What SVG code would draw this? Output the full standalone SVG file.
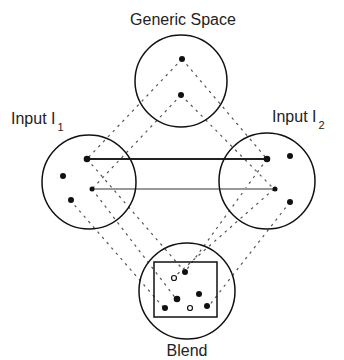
<svg xmlns="http://www.w3.org/2000/svg" width="344" height="360" viewBox="0 0 344 360">
<style>
.ring{fill:none;stroke:#111;stroke-width:1.5}
.dot{fill:#111}
.hollow{fill:#fff;stroke:#111;stroke-width:1.2}
.dash{fill:none;stroke:#555;stroke-width:1.2;stroke-dasharray:2.5 4.5}
.lbl{font-family:"Liberation Sans",Arial,sans-serif;font-size:16px;fill:#222}
.sub{font-family:"Liberation Sans",Arial,sans-serif;font-size:11px;fill:#222}
</style>
<rect width="344" height="360" fill="#fff"/>
<g id="connectors">
<line class="dash" x1="182" y1="59" x2="87" y2="159"/>
<line class="dash" x1="181" y1="95" x2="92" y2="189"/>
<line class="dash" x1="182" y1="59" x2="267" y2="159"/>
<line class="dash" x1="181" y1="95" x2="274" y2="189"/>
<line class="dash" x1="87" y1="159" x2="185" y2="272"/>
<line class="dash" x1="92" y1="189" x2="177" y2="300"/>
<line class="dash" x1="70" y1="200" x2="164" y2="308"/>
<line class="dash" x1="267" y1="159" x2="185" y2="272"/>
<line class="dash" x1="274" y1="189" x2="173" y2="278"/>
<line class="dash" x1="290" y1="202" x2="208" y2="307"/>
<line x1="87" y1="159" x2="267" y2="159" stroke="#222" stroke-width="1.8"/>
<line x1="92" y1="189" x2="274" y2="189" stroke="#999" stroke-width="1.8"/>
</g>
<g id="generic">
<circle class="ring" cx="181" cy="81" r="46"/>
<circle class="dot" cx="182" cy="59" r="3"/>
<circle class="dot" cx="181" cy="95" r="3"/>
<text class="lbl" x="183" y="25" text-anchor="middle">Generic Space</text>
</g>
<g id="input1">
<circle class="ring" cx="89" cy="182" r="47"/>
<circle class="dot" cx="87" cy="159" r="3.3"/>
<circle class="dot" cx="63" cy="176" r="3"/>
<circle class="dot" cx="92" cy="189" r="2.5"/>
<circle class="dot" cx="71" cy="200" r="3"/>
<text class="lbl" x="11" y="124">Input I<tspan class="sub" dx="2" dy="7">1</tspan></text>
</g>
<g id="input2">
<circle class="ring" cx="267" cy="181" r="48"/>
<circle class="dot" cx="267" cy="159" r="3.3"/>
<circle class="dot" cx="290" cy="156" r="3"/>
<circle class="dot" cx="275" cy="189" r="2.5"/>
<circle class="dot" cx="290" cy="202" r="3"/>
<text class="lbl" x="272" y="122">Input I<tspan class="sub" dx="2" dy="7">2</tspan></text>
</g>
<g id="blend">
<circle class="ring" cx="187" cy="291" r="48"/>
<rect class="ring" x="154" y="262" width="63" height="55"/>
<circle class="dot" cx="185" cy="272" r="3"/>
<circle class="hollow" cx="174" cy="278" r="2.5"/>
<circle class="dot" cx="199" cy="294" r="3"/>
<circle class="dot" cx="177" cy="299" r="3.3"/>
<circle class="dot" cx="165" cy="308" r="3"/>
<circle class="hollow" cx="190" cy="308" r="2.5"/>
<circle class="dot" cx="207" cy="306" r="3"/>
<text class="lbl" x="187" y="356" text-anchor="middle">Blend</text>
</g>
</svg>
